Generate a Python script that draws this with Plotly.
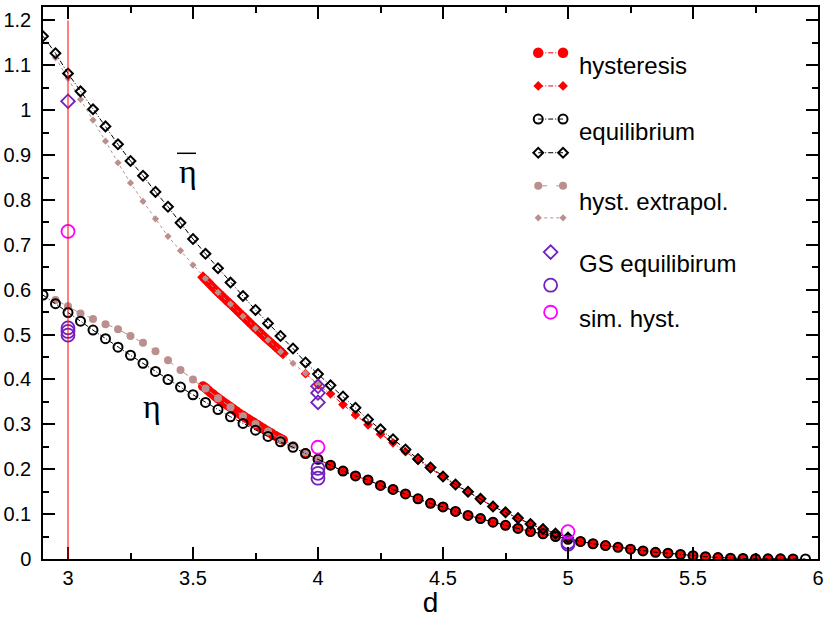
import plotly.graph_objects as go

# equilibrium, eta (open black circles)
D_EQ = [2.9, 2.95, 3.0, 3.05, 3.1, 3.15, 3.2, 3.25, 3.3, 3.35, 3.4, 3.45, 3.5, 3.55, 3.6, 3.65,
        3.7, 3.75, 3.8, 3.85, 3.9, 3.95, 4.0, 4.05, 4.1, 4.15, 4.2, 4.25, 4.3, 4.35, 4.4, 4.45,
        4.5, 4.55, 4.6, 4.65, 4.7, 4.75, 4.8, 4.85, 4.9, 4.95, 5.0, 5.05, 5.1, 5.15, 5.2, 5.25,
        5.3, 5.35, 5.4, 5.45, 5.5, 5.55, 5.6, 5.65, 5.7, 5.75, 5.8, 5.85, 5.9, 5.95]
ETA_EQ = [0.588, 0.569, 0.549, 0.530, 0.510, 0.491, 0.472, 0.454, 0.436, 0.418, 0.400, 0.383,
          0.366, 0.349, 0.333, 0.317, 0.302, 0.287, 0.273, 0.261, 0.249, 0.235, 0.222, 0.209,
          0.196, 0.185, 0.176, 0.164, 0.155, 0.145, 0.134, 0.124, 0.116, 0.106, 0.097, 0.090,
          0.082, 0.075, 0.068, 0.061, 0.056, 0.050, 0.044, 0.039, 0.034, 0.030, 0.026, 0.022,
          0.018, 0.015, 0.013, 0.010, 0.0075, 0.0052, 0.0033, 0.0018, 0.0011, 0.0007, 0.0005,
          0.0003, 0.0002, 0.0001]

# equilibrium, eta bar (open black diamonds)
DBAR_EQ = [2.9, 2.95, 3.0, 3.05, 3.1, 3.15, 3.2, 3.25, 3.3, 3.35, 3.4, 3.45, 3.5, 3.55, 3.6,
           3.65, 3.7, 3.75, 3.8, 3.85, 3.9, 3.95, 4.0, 4.05, 4.1, 4.15, 4.2, 4.25, 4.3, 4.35,
           4.4, 4.45, 4.5, 4.55, 4.6, 4.65, 4.7, 4.75, 4.8, 4.85, 4.9, 4.95, 5.0]
ETABAR_EQ = [1.165, 1.127, 1.082, 1.042, 1.002, 0.964, 0.924, 0.887, 0.854, 0.818, 0.785,
             0.749, 0.713, 0.680, 0.648, 0.616, 0.586, 0.555, 0.525, 0.497, 0.469, 0.438,
             0.412, 0.387, 0.362, 0.337, 0.311, 0.289, 0.267, 0.244, 0.223, 0.204, 0.184,
             0.166, 0.150, 0.134, 0.117, 0.104, 0.091, 0.078, 0.067, 0.057, 0.048]

# hysteresis, dense branch
D_HYS_DENSE = [3.54, 3.55, 3.56, 3.57, 3.58, 3.59, 3.6, 3.61, 3.62, 3.63, 3.64, 3.65, 3.66,
               3.67, 3.68, 3.69, 3.7, 3.71, 3.72, 3.73, 3.74, 3.75, 3.76, 3.77, 3.78, 3.79,
               3.8, 3.81, 3.82, 3.83, 3.84, 3.85, 3.86]
ETA_HYS_DENSE = [0.385, 0.381, 0.376, 0.371, 0.367, 0.362, 0.358, 0.354, 0.350, 0.346, 0.342,
                 0.338, 0.334, 0.330, 0.326, 0.322, 0.319, 0.315, 0.312, 0.308, 0.305, 0.301,
                 0.298, 0.294, 0.291, 0.287, 0.284, 0.281, 0.277, 0.274, 0.271, 0.268, 0.265]
ETABAR_HYS_DENSE = [0.628, 0.622, 0.617, 0.611, 0.605, 0.600, 0.594, 0.589, 0.584, 0.578,
                    0.573, 0.568, 0.563, 0.557, 0.552, 0.546, 0.541, 0.536, 0.530, 0.525,
                    0.519, 0.514, 0.509, 0.504, 0.498, 0.493, 0.488, 0.483, 0.478, 0.473,
                    0.468, 0.463, 0.458]

# hysteresis, d >= 3.95
D_HYS = [3.95, 4.0, 4.05, 4.1, 4.15, 4.2, 4.25, 4.3, 4.35, 4.4, 4.45, 4.5, 4.55, 4.6, 4.65,
         4.7, 4.75, 4.8, 4.85, 4.9, 4.95, 5.0, 5.05, 5.1, 5.15, 5.2, 5.25, 5.3, 5.35, 5.4,
         5.45, 5.5, 5.55, 5.6, 5.65, 5.7, 5.75, 5.8, 5.85, 5.9]
ETA_HYS = [0.236, 0.222, 0.209, 0.196, 0.185, 0.176, 0.164, 0.155, 0.145, 0.134, 0.124, 0.116,
           0.106, 0.097, 0.090, 0.082, 0.075, 0.068, 0.061, 0.056, 0.050, 0.044, 0.039, 0.034,
           0.030, 0.026, 0.022, 0.018, 0.015, 0.013, 0.010, 0.0075, 0.0052, 0.0033, 0.0018,
           0.0011, 0.0007, 0.0005, 0.0003, 0.0002]
DBAR_HYS = [3.95, 4.0, 4.05, 4.1, 4.15, 4.2, 4.25, 4.3, 4.35, 4.4, 4.45, 4.5, 4.55, 4.6, 4.65,
            4.7, 4.75, 4.8, 4.85, 4.9, 4.95, 5.0]
ETABAR_HYS = [0.413, 0.388, 0.368, 0.344, 0.321, 0.299, 0.278, 0.259, 0.239, 0.220, 0.202,
              0.183, 0.165, 0.149, 0.133, 0.117, 0.104, 0.091, 0.078, 0.067, 0.057, 0.048]

# hysteresis extrapolation
D_EXT = [2.95, 3.0, 3.05, 3.1, 3.15, 3.2, 3.25, 3.3, 3.35, 3.4, 3.45, 3.5, 3.55, 3.6, 3.65,
         3.7, 3.75, 3.8, 3.85, 3.9, 3.95, 4.0]
ETA_EXT = [0.577, 0.563, 0.547, 0.535, 0.523, 0.512, 0.497, 0.482, 0.463, 0.443, 0.421, 0.400,
           0.380, 0.358, 0.338, 0.318, 0.301, 0.284, 0.267, 0.254, 0.238, 0.222]
ETABAR_EXT = [1.117, 1.071, 1.024, 0.978, 0.931, 0.883, 0.838, 0.797, 0.758, 0.719, 0.687,
              0.655, 0.625, 0.594, 0.568, 0.541, 0.514, 0.488, 0.462, 0.436, 0.414, 0.390]

# GS equilibrium and simulated hysteresis
D_GS_BAR = [3.0, 4.0, 4.0, 4.0]
ETABAR_GS = [1.02, 0.385, 0.370, 0.349]
D_GS = [3.0, 3.0, 3.0, 4.0, 4.0, 4.0, 5.0, 5.0]
ETA_GS = [0.515, 0.507, 0.499, 0.202, 0.191, 0.180, 0.037, 0.033]
D_SIM = [3.0, 4.0, 5.0]
ETA_SIM = [0.73, 0.249, 0.061]

D_MARK = 3.0  # red vertical line

RED = "#ff0000"
ROSY = "#bc8f8f"
INDIGO = "#7221bc"
MAGENTA = "#ff00ff"
DASHDOT = "5px,2px,1px,2px"

fig = go.Figure()

def add(x, y, color, symbol, size, dash=None, lw=1, mline=0, mcolor=None, mode="lines+markers",
        xa="x", ya="y"):
    fig.add_trace(go.Scatter(
        x=x, y=y, mode=mode, xaxis=xa, yaxis=ya, showlegend=False, hoverinfo="skip",
        line=dict(color=color, width=lw, dash=dash),
        marker=dict(symbol=symbol, size=size, color=mcolor or color,
                    line=dict(color=color, width=mline))))

# hysteresis (red)
add(D_HYS_DENSE, ETA_HYS_DENSE, RED, "circle", 10, dash=DASHDOT)
add(D_HYS_DENSE, ETABAR_HYS_DENSE, RED, "diamond", 9, dash=DASHDOT)
add(D_HYS, ETA_HYS, RED, "circle", 10, dash=DASHDOT)
add(DBAR_HYS, ETABAR_HYS, RED, "diamond", 7.5, dash=DASHDOT)

# extrapolation (rosy brown)
add(D_EXT, ETA_EXT, ROSY, "circle", 8, dash="dash")
add(D_EXT, ETABAR_EXT, ROSY, "diamond", 5.5, dash="dot")

# equilibrium (black)
add(D_EQ, ETA_EQ, "black", "circle-open", 9, dash=DASHDOT, mline=2)
add(DBAR_EQ, ETABAR_EQ, "black", "diamond-open", 7.5, dash=DASHDOT, mline=2)

# GS and simulation points
add(D_GS_BAR, ETABAR_GS, INDIGO, "diamond-open", 10.5, mline=1.8, mode="markers")
add(D_GS, ETA_GS, INDIGO, "circle-open", 13, mline=1.8, mode="markers")
add(D_SIM, ETA_SIM, MAGENTA, "circle-open", 13, mline=1.8, mode="markers")

# legend drawn on a hidden overlay axis (plot-area fractions)
XL, XR, XS, XT = 0.639, 0.671, 0.655, 0.689
legend_rows = [
    (0.917, RED, "circle", 10.5, DASHDOT, 0),
    (0.857, RED, "diamond", 7.5, DASHDOT, 0),
    (0.797, "black", "circle-open", 9, DASHDOT, 2),
    (0.736, "black", "diamond-open", 7.5, DASHDOT, 2),
    (0.676, ROSY, "circle", 8, "dash", 0),
    (0.618, ROSY, "diamond", 5.5, "dot", 0),
]
for yy, col, sym, sz, dsh, ml in legend_rows:
    add([XL, XR], [yy, yy], col, sym, sz, dash=dsh, mline=ml, xa="x2", ya="y2")
add([XS], [0.556], INDIGO, "diamond-open", 10.5, mline=1.8, mode="markers", xa="x2", ya="y2")
add([XS], [0.496], INDIGO, "circle-open", 13, mline=1.8, mode="markers", xa="x2", ya="y2")
add([XS], [0.447], MAGENTA, "circle-open", 13, mline=1.8, mode="markers", xa="x2", ya="y2")

legend_labels = [(0.894, "hysteresis"), (0.775, "equilibrium"), (0.648, "hyst. extrapol."),
                 (0.536, "GS equilibirum"), (0.436, "sim. hyst.")]
annotations = [dict(x=XT, y=yy, xref="paper", yref="paper", text=t, showarrow=False,
                    xanchor="left", yanchor="middle",
                    font=dict(family="Liberation Sans, Arial", size=24, color="black"))
               for yy, t in legend_labels]
annotations += [
    dict(x=3.48, y=0.863, text="η", showarrow=False, xanchor="center", yanchor="middle",
         font=dict(family="Liberation Serif, Times New Roman", size=34, color="black")),
    dict(x=3.335, y=0.340, text="η", showarrow=False, xanchor="center", yanchor="middle",
         font=dict(family="Liberation Serif, Times New Roman", size=34, color="black")),
]

shapes = [
    dict(type="line", xref="x", yref="y", x0=D_MARK, x1=D_MARK, y0=0, y1=1.2,
         line=dict(color=RED, width=1), layer="above"),
    dict(type="line", xref="x", yref="y", x0=3.436, x1=3.512, y0=0.904, y1=0.904,
         line=dict(color="black", width=1.5)),
]

axis_common = dict(showline=True, linecolor="black", linewidth=1.5, mirror="ticks",
                   ticks="inside", ticklen=12, tickwidth=1.5, tickcolor="black",
                   showgrid=False, zeroline=False, automargin=False,
                   tickfont=dict(family="Liberation Sans, Arial", size=20, color="black"))

fig.update_layout(
    width=830, height=618,
    margin=dict(l=43, r=12, t=7, b=59),
    paper_bgcolor="white", plot_bgcolor="white",
    showlegend=False,
    xaxis=dict(range=[2.9, 6.0], tick0=3, dtick=0.5,
               minor=dict(tick0=3, dtick=0.25, ticks="inside", ticklen=6, tickwidth=1.5,
                          tickcolor="black"),
               title=dict(text="d", standoff=10,
                          font=dict(family="Liberation Sans, Arial", size=28, color="black")),
               **axis_common),
    yaxis=dict(range=[0, 1.23], tick0=0, dtick=0.1, ticklabelstandoff=6,
               minor=dict(tick0=0, dtick=0.05, ticks="inside", ticklen=6, tickwidth=1.5,
                          tickcolor="black"),
               **axis_common),
    xaxis2=dict(overlaying="x", range=[0, 1], visible=False),
    yaxis2=dict(overlaying="y", range=[0, 1], visible=False),
    annotations=annotations,
    shapes=shapes,
)

# the page's default body margin would shift the figure by 8px
fig.write_html("out.html", config={"displayModeBar": False},
               post_script="document.body.style.margin='0px';")
